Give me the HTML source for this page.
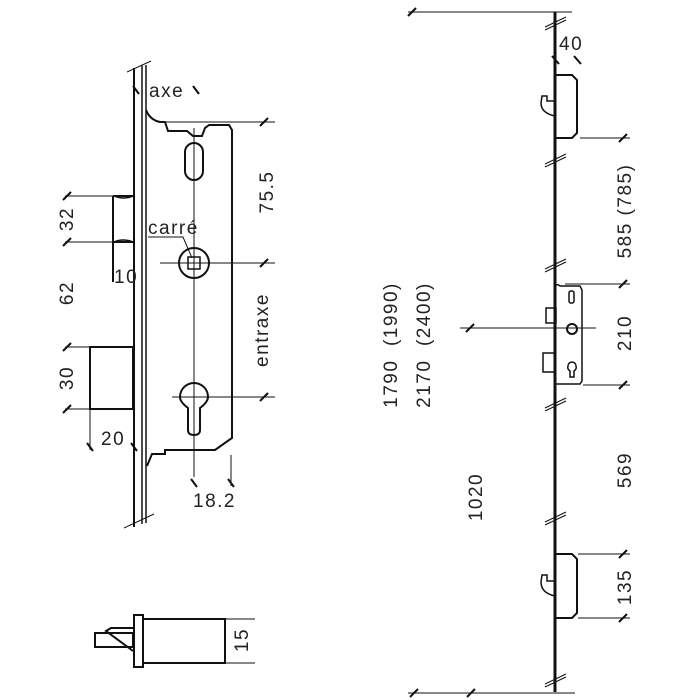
<!DOCTYPE html>
<html><head><meta charset="utf-8"><style>
html,body{margin:0;padding:0;background:#fff}
svg{display:block}
text{font-family:"Liberation Sans",sans-serif;font-size:19px;fill:#222;stroke:none;letter-spacing:1.5px}
</style></head><body>
<svg width="700" height="700" viewBox="0 0 700 700" xmlns="http://www.w3.org/2000/svg" stroke="#111" fill="none" stroke-width="1">
<!-- LEFT: faceplate -->
<line x1="134" y1="68" x2="134" y2="527" stroke-width="2"/>
<line x1="142" y1="65" x2="142" y2="524" stroke-width="1.5"/>
<line x1="146" y1="65" x2="146" y2="523" stroke-width="1.5"/>
<line x1="127" y1="72" x2="151" y2="61"/>
<line x1="124" y1="528" x2="154" y2="514"/>
<!-- axe -->
<line x1="133" y1="86" x2="139" y2="94" stroke-width="2"/>
<line x1="193" y1="86" x2="199" y2="94" stroke-width="2"/>
<text x="149" y="97">axe</text>
<!-- body -->
<path d="M146,110 Q150,120 160,122 L165,122 L168,131 L187,131 L193,136 L202,136 L205,128 L209,125 L229,125 L232,130 L232,438 L215,450 L165,450 L165,454 L152,454 L147,466" stroke-width="2"/>
<line x1="160" y1="122" x2="275" y2="122"/>
<line x1="260" y1="126" x2="268" y2="118" stroke-width="2"/>
<rect x="185" y="143" width="18" height="37" rx="9" stroke-width="2"/>
<line x1="194" y1="128" x2="194" y2="477"/>
<circle cx="194" cy="263" r="15" stroke-width="2"/>
<rect x="188" y="257" width="12" height="12" stroke-width="1.5"/>
<line x1="160" y1="263" x2="275" y2="263"/>
<line x1="260" y1="267" x2="268" y2="259" stroke-width="2"/>
<path d="M188,408 Q180,402 180,397 A14,14 0 1 1 208,397 Q208,402 200,408 L200,430 Q200,435 194,435 Q188,435 188,430 Z" stroke-width="2"/>
<line x1="172" y1="397" x2="275" y2="397"/>
<line x1="260" y1="401" x2="268" y2="393" stroke-width="2"/>
<line x1="231" y1="455" x2="231" y2="486"/>
<line x1="191" y1="479" x2="197" y2="487" stroke-width="2"/>
<line x1="228" y1="479" x2="234" y2="487" stroke-width="2"/>
<text x="193" y="507">18.2</text>
<!-- carre -->
<text x="148" y="234">carré</text>
<polyline points="148,237 183,237 192,258"/>
<text transform="translate(273,192) rotate(-90)" text-anchor="middle">75.5</text>
<text transform="translate(268,330) rotate(-90)" text-anchor="middle">entraxe</text>
<!-- latch -->
<path d="M113,196 L134,196 M113,242 L134,242 M113,196 L113,282" stroke-width="2"/>
<path d="M114,196 Q123,200 133,196 M114,242 Q123,238 133,242" stroke-width="1.5"/>
<line x1="65" y1="196" x2="113" y2="196"/>
<line x1="65" y1="242" x2="113" y2="242"/>
<line x1="63" y1="200" x2="71" y2="192" stroke-width="2"/>
<line x1="63" y1="246" x2="71" y2="238" stroke-width="2"/>
<text transform="translate(73,219) rotate(-90)" text-anchor="middle">32</text>
<text x="114" y="283">10</text>
<text transform="translate(73,293) rotate(-90)" text-anchor="middle">62</text>
<!-- deadbolt -->
<rect x="90" y="347" width="43" height="62" stroke-width="2"/>
<line x1="65" y1="347" x2="90" y2="347"/>
<line x1="65" y1="409" x2="90" y2="409"/>
<line x1="63" y1="351" x2="71" y2="343" stroke-width="2"/>
<line x1="63" y1="413" x2="71" y2="405" stroke-width="2"/>
<text transform="translate(73,378) rotate(-90)" text-anchor="middle">30</text>
<line x1="90" y1="409" x2="90" y2="450"/>
<line x1="87" y1="443" x2="93" y2="451" stroke-width="2"/>
<line x1="131" y1="443" x2="137" y2="451" stroke-width="2"/>
<text x="101" y="445">20</text>
<!-- bottom cylinder -->
<rect x="134" y="615" width="9" height="52" stroke-width="2"/>
<rect x="143" y="619" width="82" height="44" stroke-width="2"/>
<rect x="95" y="633" width="38" height="14" stroke-width="2"/>
<polyline points="133,628 111,628 106,631 133,651" stroke-width="2"/>
<line x1="225" y1="619" x2="255" y2="619"/>
<line x1="225" y1="663" x2="255" y2="663"/>
<text transform="translate(248,640) rotate(-90)" text-anchor="middle">15</text>
<!-- RIGHT: bar -->
<line x1="555" y1="12" x2="555" y2="692" stroke-width="3"/>
<line x1="408" y1="12" x2="572" y2="12"/>
<line x1="408" y1="16" x2="416" y2="8" stroke-width="2"/>
<g stroke-width="1">
<line x1="545" y1="27" x2="566" y2="17"/><line x1="545" y1="30" x2="566" y2="20"/>
<line x1="545" y1="164" x2="566" y2="154"/><line x1="545" y1="167" x2="566" y2="157"/>
<line x1="545" y1="269" x2="566" y2="259"/><line x1="545" y1="272" x2="566" y2="262"/>
<line x1="545" y1="408" x2="566" y2="398"/><line x1="545" y1="411" x2="566" y2="401"/>
<line x1="545" y1="522" x2="566" y2="512"/><line x1="545" y1="525" x2="566" y2="515"/>
<line x1="545" y1="684" x2="566" y2="674"/><line x1="545" y1="687" x2="566" y2="677"/>
</g>
<line x1="552" y1="56" x2="559" y2="64" stroke-width="2"/>
<line x1="574" y1="56" x2="581" y2="64" stroke-width="2"/>
<text x="559" y="50">40</text>
<!-- upper hook -->
<path d="M556,75 L572,75 L577,80 L577,133 L572,138 L556,138" stroke-width="2"/>
<path d="M555,101 L547,101 L547,96 L542,96 L541,103 Q541,113 555,116" stroke-width="1.5"/>
<line x1="580" y1="138" x2="630" y2="138"/>
<line x1="619" y1="142" x2="627" y2="134" stroke-width="2"/>
<text transform="translate(631,211) rotate(-90)" text-anchor="middle">585 (785)</text>
<!-- center lock -->
<path d="M556,285 Q558,284 560,286 L580,286 L582,290 L582,381 L580,384 L556,384" stroke-width="1.5"/>
<rect x="569" y="291" width="5" height="12" rx="2" stroke-width="1.5"/>
<circle cx="572" cy="329" r="5" stroke-width="2"/>
<path d="M570,377 L570,371 Q567,369 568,366 A4,4 0 1 1 576,366 Q577,369 574,371 L574,377 Z" stroke-width="1.5"/>
<rect x="546" y="308" width="10" height="15" stroke-width="1.5"/>
<rect x="543" y="353" width="12" height="19" stroke-width="1.5"/>
<line x1="460" y1="328" x2="596" y2="328"/>
<line x1="466" y1="332" x2="474" y2="324" stroke-width="2"/>
<line x1="565" y1="284" x2="630" y2="284"/>
<line x1="619" y1="288" x2="627" y2="280" stroke-width="2"/>
<line x1="583" y1="385" x2="630" y2="385"/>
<line x1="619" y1="389" x2="627" y2="381" stroke-width="2"/>
<text transform="translate(631,333) rotate(-90)" text-anchor="middle">210</text>
<text transform="translate(397,345) rotate(-90)" text-anchor="middle" xml:space="preserve">1790  (1990)</text>
<text transform="translate(430,345) rotate(-90)" text-anchor="middle" xml:space="preserve">2170  (2400)</text>
<text transform="translate(482,497) rotate(-90)" text-anchor="middle">1020</text>
<text transform="translate(631,470) rotate(-90)" text-anchor="middle">569</text>
<!-- lower hook -->
<path d="M556,554 L572,554 L577,559 L577,613 L572,618 L556,618" stroke-width="2"/>
<path d="M555,581 L547,581 L547,575 L542,575 L541,582 Q541,593 555,596" stroke-width="1.5"/>
<line x1="578" y1="554" x2="630" y2="554"/>
<line x1="619" y1="558" x2="627" y2="550" stroke-width="2"/>
<line x1="578" y1="618" x2="630" y2="618"/>
<line x1="619" y1="622" x2="627" y2="614" stroke-width="2"/>
<text transform="translate(631,587) rotate(-90)" text-anchor="middle">135</text>
<line x1="408" y1="693" x2="575" y2="693"/>
<line x1="410" y1="697" x2="418" y2="689" stroke-width="2"/>
<line x1="467" y1="697" x2="475" y2="689" stroke-width="2"/>
</svg>
</body></html>
